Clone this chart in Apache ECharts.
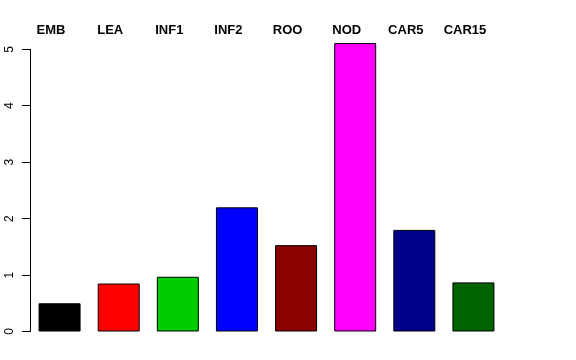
<!DOCTYPE html>
<html>
<head>
<meta charset="utf-8">
<script src="https://cdn.jsdelivr.net/npm/echarts@6/dist/echarts.min.js"></script>
<style>html,body{margin:0;padding:0;background:#fff}#c{width:576px;height:360px}</style>
</head>
<body>
<div id="c"></div>
<script>
var categories = ['EMB', 'LEA', 'INF1', 'INF2', 'ROO', 'NOD', 'CAR5', 'CAR15'];
var values = [0.50, 0.85, 0.97, 2.20, 1.53, 5.11, 1.80, 0.87];
var barColors = ['#000000', '#FF0000', '#00CD00', '#0000FF', '#8B0000', '#FF00FF', '#00008B', '#006400'];
var yTicks = [0, 1, 2, 3, 4, 5];

var chart = echarts.init(document.getElementById('c'), null, {renderer: 'canvas'});
chart.setOption({
  animation: false,
  backgroundColor: '#ffffff',
  grid: {left: 30, top: 49.3, width: 473, height: 282.2, containLabel: false},
  xAxis: {
    type: 'category',
    position: 'top',
    data: categories,
    axisLine: {show: false},
    axisTick: {show: false},
    axisLabel: {
      show: true,
      interval: 0,
      fontFamily: 'Liberation Sans',
      fontWeight: 'bold',
      fontSize: 13,
      color: '#000',
      margin: 12,
      padding: [0, 17, 0, 0]
    }
  },
  yAxis: {
    type: 'value',
    min: yTicks[0],
    max: yTicks[yTicks.length - 1],
    interval: 1,
    splitLine: {show: false},
    axisLine: {show: true, lineStyle: {color: '#000', width: 1}},
    axisTick: {show: true, length: 8, lineStyle: {color: '#000', width: 1}},
    axisLabel: {
      rotate: 90,
      fontFamily: 'Liberation Sans',
      fontSize: 12,
      color: '#000',
      margin: 14
    }
  },
  series: [{
    type: 'bar',
    clip: false,
    barWidth: 42,
    data: values.map(function (v, i) {
      return {value: v, itemStyle: {color: barColors[i]}};
    }),
    itemStyle: {borderColor: '#000', borderWidth: 1}
  }]
});
</script>
</body>
</html>
